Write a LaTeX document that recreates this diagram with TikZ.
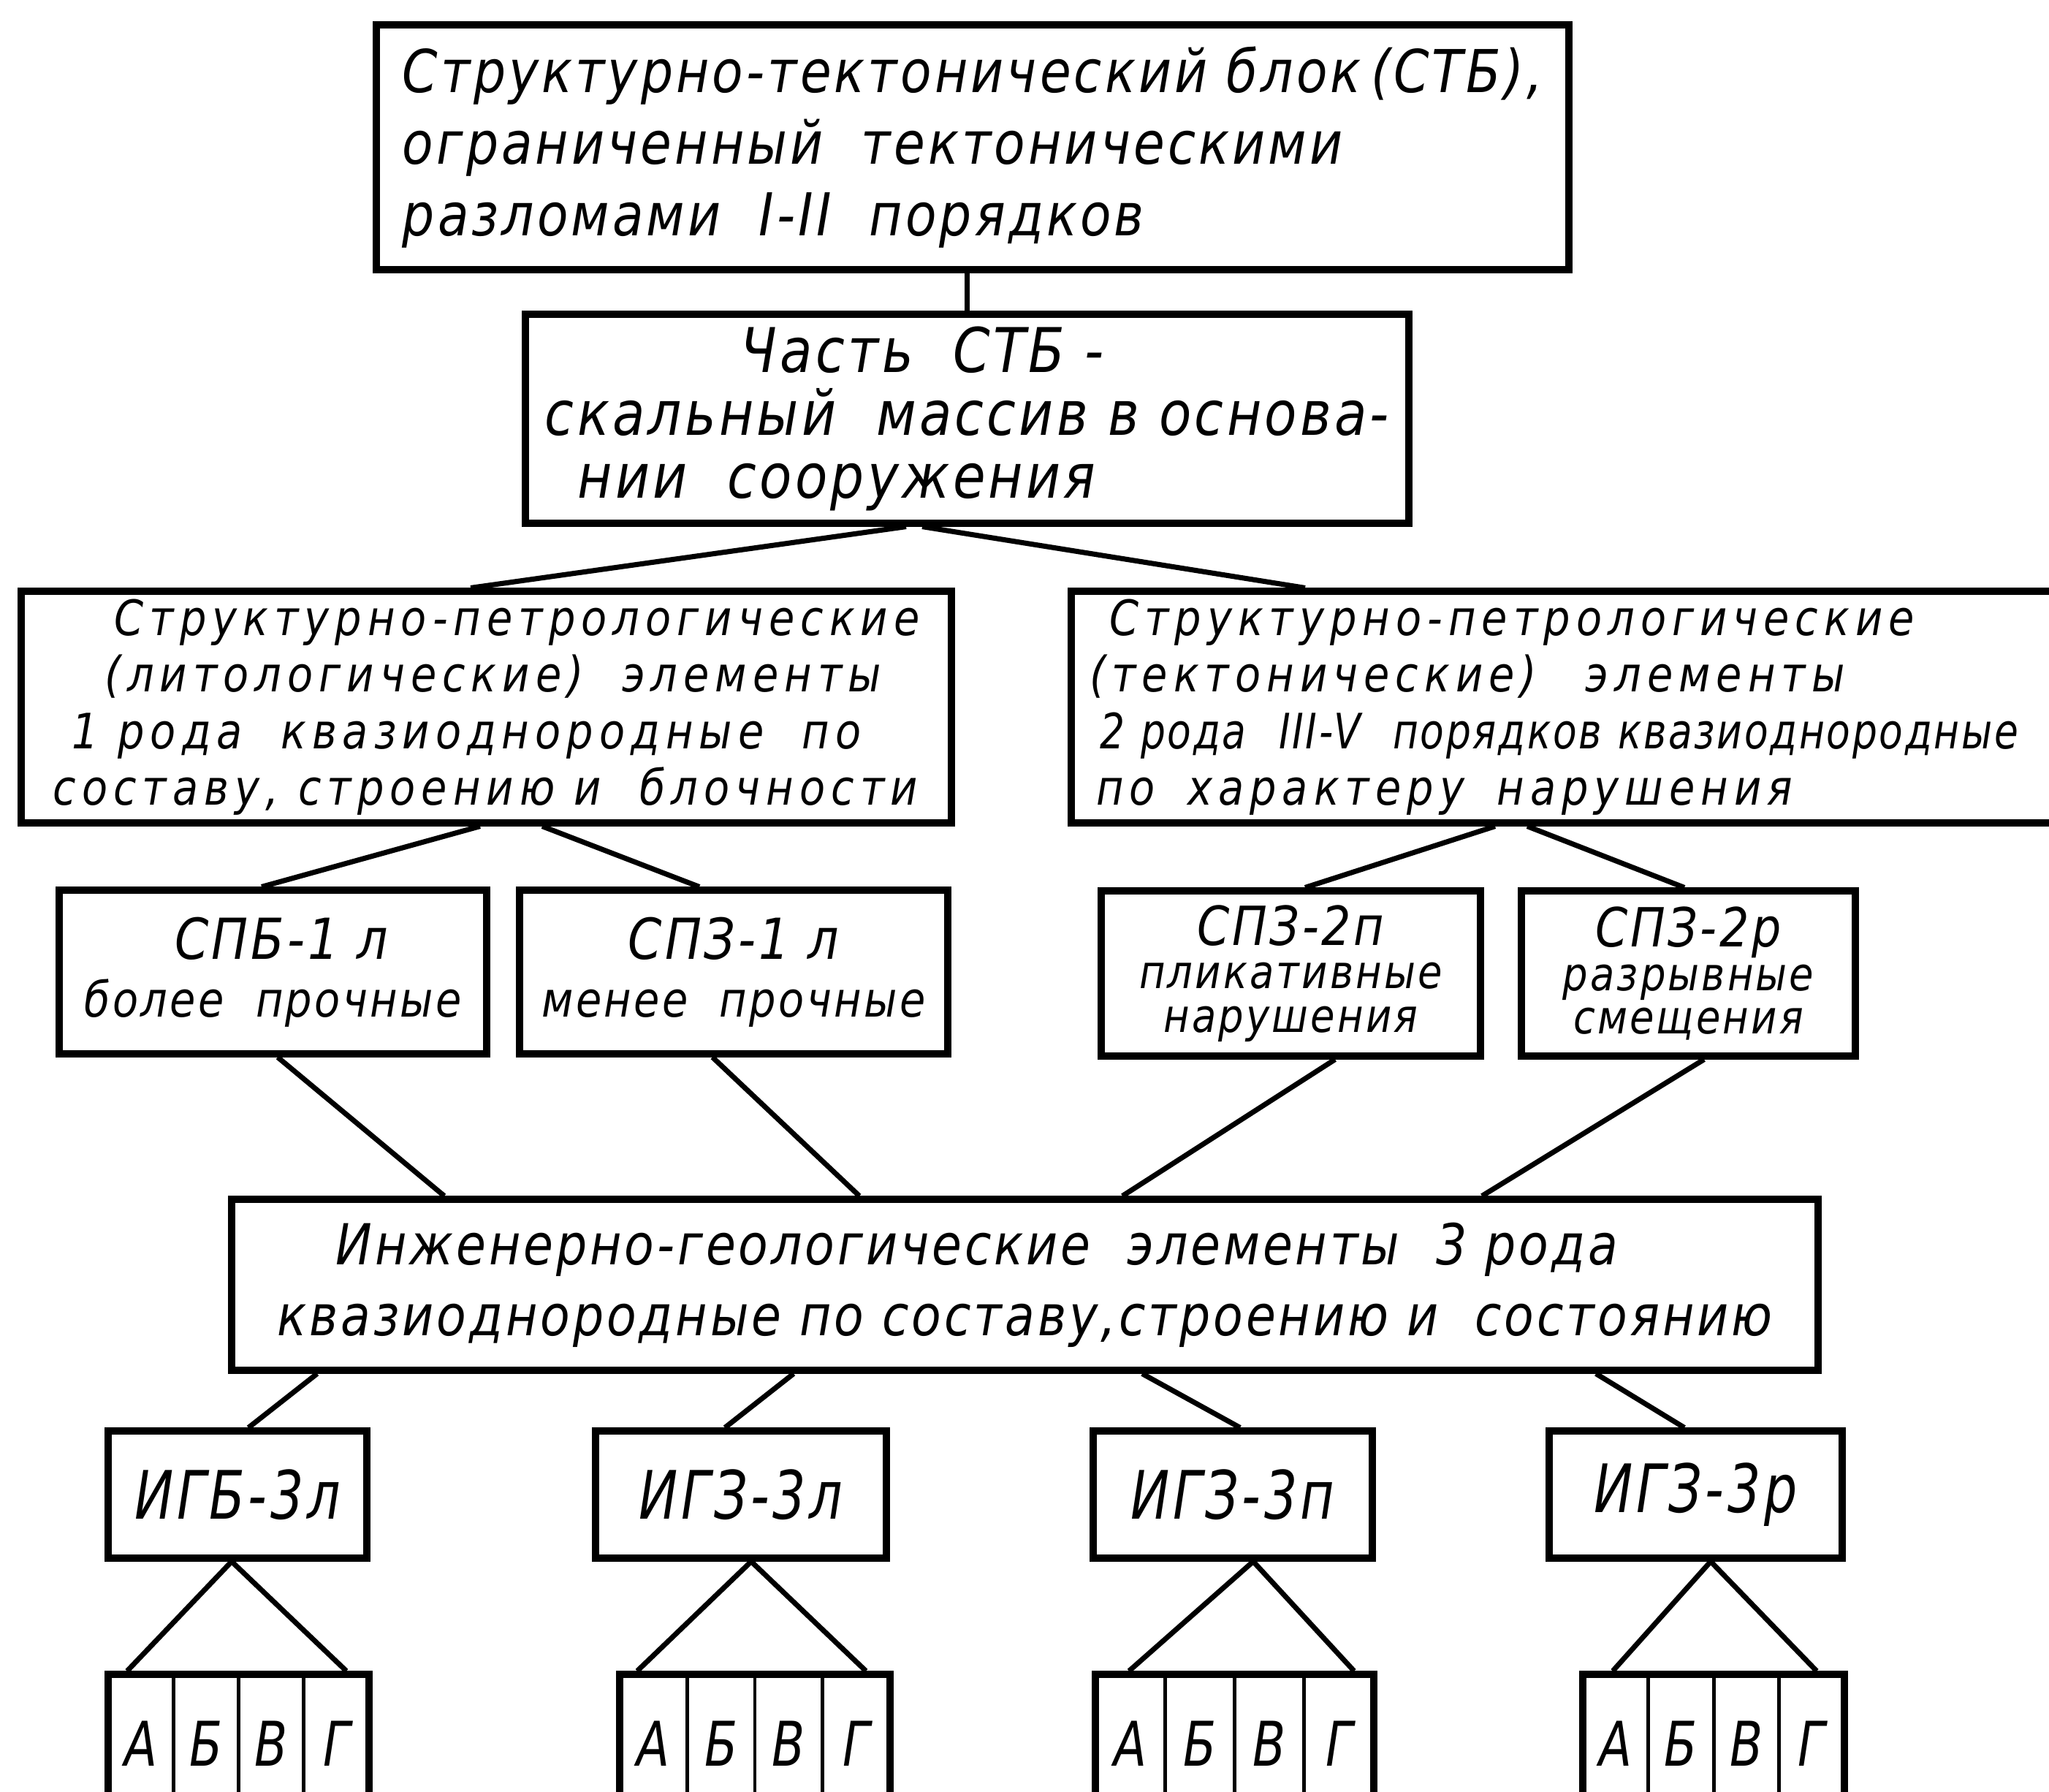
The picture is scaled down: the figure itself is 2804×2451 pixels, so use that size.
\documentclass[tikz,border=0pt]{standalone}
\usepackage{fontspec}
\newfontfamily\gost{DejaVu Sans}[FakeStretch=0.86,LetterSpace=5]
\newfontfamily\gosttall{DejaVu Sans}[FakeStretch=0.78,LetterSpace=5]
\newfontfamily\gostwide{DejaVu Sans}[FakeStretch=0.86,LetterSpace=12]
\newfontfamily\gostnarrow{DejaVu Sans}[FakeStretch=0.8,LetterSpace=4]

\begin{document}
\begin{tikzpicture}[x=0.1mm,y=-0.1mm
	,line join=miter
	,every edge/.style={draw,line width=2pt}]
  \tikzstyle{box}=[draw,line width=2.6pt,inner sep=0pt,align=left]
  \tikzstyle{tbox}=[box,font=\gost\itshape\fontsize{23}{28}\selectfont]
  \tikzstyle{pbox}=[box,font=\gost\itshape\fontsize{24}{24.5}\selectfont]
  \tikzstyle{ebox}=[box,font=\gostwide\itshape\fontsize{19}{22}\selectfont]
  \tikzstyle{sbox}=[box,font=\gost\itshape\fontsize{19}{22.5}\selectfont]
  \tikzstyle{s3box}=[box,align=center,font=\gost\itshape\fontsize{18}{17}\selectfont]
  \tikzstyle{ibox}=[box,font=\gost\itshape\fontsize{22}{27.5}\selectfont]
  \tikzstyle{gbox}=[box,align=center,minimum height=17.4mm,font=\gosttall\itshape\fontsize{26}{28}\selectfont]
  \tikzstyle{cell}=[draw,line width=1.4pt,inner sep=0pt,outer sep=0pt,minimum height=18.9mm,font=\gosttall\itshape\fontsize{24}{26}\selectfont]
  \tikzstyle{group}=[draw,line width=2.6pt,inner sep=0pt,minimum height=18.9mm]

  \useasboundingbox (0,0) rectangle (2804,2451);
  \clip (0,0) rectangle (2804,2451);

  % block and its part
  \node[tbox,minimum width=163.2mm,minimum height=33.5mm] (stb) at (1331,201.5)
    {Структурно-тектонический блок\,(СТБ),\\ограниченный \ тектоническими\\разломами \ I-II \ порядков};
  \node[pbox,minimum width=120.9mm,minimum height=28.6mm] (part) at (1323.5,573)
    {\hspace*{26.8mm}Часть \ СТБ -\\скальный \ массив в основа-\\\hspace*{4.5mm}нии \ сооружения};

  % elements of 1 and 2 kind
  \node[ebox,minimum width=127.3mm,minimum height=31.7mm] (lit) at (665.5,967.5)
    {\hspace*{8.4mm}Структурно-петрологические\\\hspace*{7.1mm}(литологические) \ элементы\\\hspace*{2.6mm}1 рода \ квазиоднородные \ по\\составу, строению и \ блочности};
  \node[ebox,text width=150mm,inner xsep=2.5mm,minimum height=31.7mm] (tect) at (2241,967.5)
    {\hspace*{2.7mm}Структурно-петрологические\\(тектонические) \ \ элементы\\\hspace*{1.4mm}{\gostnarrow 2 рода \ III-V \ порядков квазиоднородные}\\\hspace*{0.9mm}по \ характеру \ нарушения};

  % 4 sp boxes
  \node[sbox,minimum width=58.5mm,minimum height=22.4mm] (spb) at (373.5,1330)
    {\hspace*{12.4mm}{\fontsize{22}{22.5}\selectfont СПБ-1 л}\\более \ прочные};
  \node[sbox,align=center,minimum width=58.6mm,minimum height=22.4mm] (spz1) at (1004,1330)
    {{\fontsize{22}{22.5}\selectfont СПЗ-1 л}\\менее \ прочные};
  \node[s3box,minimum width=51.9mm,minimum height=22.6mm] (spz2p) at (1766.5,1332)
    {{\fontsize{21}{17}\selectfont СПЗ-2п}\\пликативные\\нарушения};
  \node[s3box,minimum width=45.7mm,minimum height=22.6mm] (spz2r) at (2310.5,1332)
    {{\fontsize{21}{17}\selectfont СПЗ-2р}\\разрывные\\смещения};

  % elements of 3 kind
  \node[ibox,minimum width=217.1mm,minimum height=23.4mm] (ige) at (1402.5,1758)
    {\hspace*{8mm}Инженерно-геологические \ элементы \ 3 рода\\квазиоднородные по составу,строению и \ состоянию};

  % 4 ig boxes
  \node[gbox,minimum width=35.4mm] (igb) at (325,2045) {ИГБ-3л};
  \node[gbox,minimum width=39.8mm] (igz3l) at (1014,2045) {ИГЗ-3л};
  \node[gbox,minimum width=38.2mm] (igz3p) at (1687,2045) {ИГЗ-3п};
  \node[gbox,minimum width=40.1mm] (igz3r) at (2320.5,2045) {ИГЗ-3р};

  % 4 rows of cells
  \foreach \gx/\cw [count=\g] in {148/89.25,848/92.5,1499/95.25,2166/89.5}{
    \foreach \lt [count=\i] in {А,Б,В,Г}
      \node[cell,minimum width=\cw*0.1mm] (c\g\i) at ({\gx+(\i-0.5)*\cw},2385.5) {\lt};
    \node[group,minimum width=4*\cw*0.1mm] (abvg\g) at ({\gx+2*\cw},2385.5) {};
  }

  % top to bottom, level by level
  \path (part.north) edge (part.north |- stb.south);
  \path ([xshift=-8.35mm]part.south) edge ([xshift=-2.15mm]lit.north);
  \path ([xshift=-6.15mm]part.south) edge ([xshift=-45.5mm]tect.north);
  % 1 and 2 kind
  \path ([xshift=-0.85mm]lit.south)  edge ([xshift=-1.55mm]spb.north);
  \path ([xshift=7.65mm]lit.south)   edge ([xshift=-4.7mm]spz1.north);
  \path ([xshift=-19.5mm]tect.south) edge ([xshift=1.95mm]spz2p.north);
  \path ([xshift=-15.1mm]tect.south) edge ([xshift=-0.55mm]spz2r.north);
  % into 3 kind
  \path ([xshift=0.65mm]spb.south)   edge ([xshift=-79.45mm]ige.north);
  \path ([xshift=-2.9mm]spz1.south)  edge ([xshift=-22.65mm]ige.north);
  \path ([xshift=6.05mm]spz2p.south) edge ([xshift=13.35mm]ige.north);
  \path ([xshift=2.15mm]spz2r.south) edge ([xshift=62.55mm]ige.north);
  % out of 3 kind
  \path ([xshift=-96.85mm]ige.south) edge ([xshift=1.5mm]igb.north);
  \path ([xshift=-31.65mm]ige.south) edge ([xshift=-2.2mm]igz3l.north);
  \path ([xshift=16.05mm]ige.south)  edge ([xshift=1mm]igz3p.north);
  \path ([xshift=78.15mm]ige.south)  edge ([xshift=-1.55mm]igz3r.north);
  % cells
  \path ([xshift=-0.8mm]igb.south)   edge ([xshift=-15.25mm]abvg1.north)
        ([xshift=-0.8mm]igb.south)   edge ([xshift=14.75mm]abvg1.north);
  \path ([xshift=1.4mm]igz3l.south)  edge ([xshift=-16.1mm]abvg2.north)
        ([xshift=1.4mm]igz3l.south)  edge ([xshift=15.2mm]abvg2.north);
  \path ([xshift=2.8mm]igz3p.south)  edge ([xshift=-14.45mm]abvg3.north)
        ([xshift=2.8mm]igz3p.south)  edge ([xshift=16.35mm]abvg3.north);
  \path ([xshift=2.05mm]igz3r.south) edge ([xshift=-13.8mm]abvg4.north)
        ([xshift=2.05mm]igz3r.south) edge ([xshift=14.1mm]abvg4.north);
\end{tikzpicture}
\end{document}
